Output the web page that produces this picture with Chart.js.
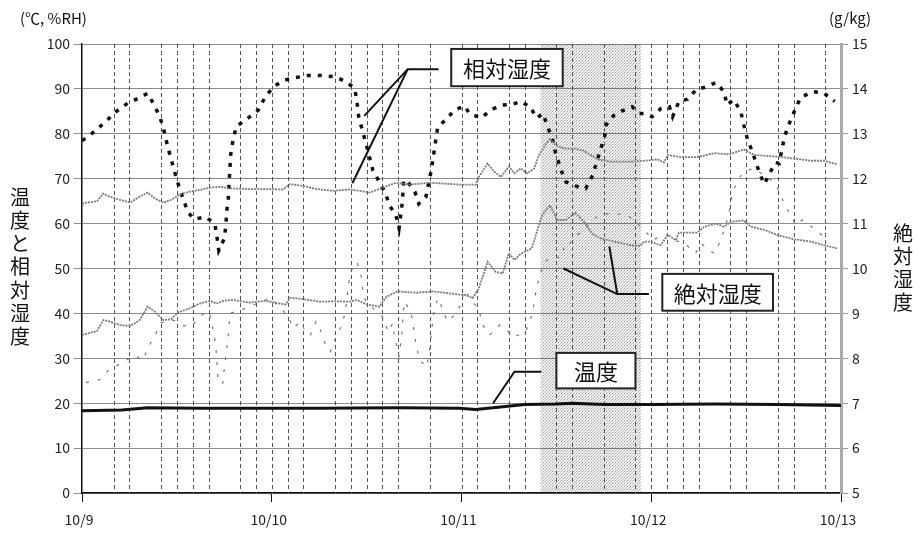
<!DOCTYPE html>
<html>
<head>
<meta charset="utf-8">
<script src="https://cdn.jsdelivr.net/npm/chart.js@4.4.1/dist/chart.umd.min.js"></script>
<style>
html, body { margin: 0; padding: 0; background: #fff; }
#wrap { width: 919px; height: 537px; }
</style>
</head>
<body>
<div id="wrap"><canvas id="chart" width="919" height="537"></canvas></div>
<script>
// x axis: hours since 10/9 0:00
const dayLabels = ['10/9', '10/10', '10/11', '10/12', '10/13'];
const leftTitle = '温度と相対湿度';
const rightTitle = '絶対湿度';

// dashed vertical marks (hours) and the shaded period
const eventHours = [4, 6, 10, 12, 14, 16, 20, 22, 24, 26, 28, 32, 34, 36, 38, 40, 44, 48, 50, 54, 56, 60, 62, 66, 70, 72, 74, 76, 78, 82, 84, 88, 90, 94];
const shadeFrom = 58;
const shadeTo = 70.7;

// outdoor relative humidity (%RH)
const rhOutHours = [0, 0.5, 1.7, 3, 4.2, 5.6, 7.1, 8.3, 9.2, 9.9, 10.4, 10.8, 11.3, 11.8, 12.3, 13.4, 14.2, 15.6, 16.8, 17.1, 17.3, 18, 18.2, 18.3, 18.5, 18.6, 18.7, 18.8, 19.1, 19.5, 21, 22.3, 23.2, 24.3, 25.7, 27, 28.6, 30.3, 32, 33.4, 34.5, 34.8, 35, 35.5, 36, 36.8, 37.6, 38.4, 38.9, 39.7, 40.1, 40.5, 40.7, 41.2, 42.1, 42.6, 43.5, 44.2, 45, 46.1, 47.1, 48.4, 49, 50.5, 51.7, 53, 54.5, 55.5, 56.7, 57.5, 58.3, 58.9, 59.5, 59.9, 60.6, 61.2, 62.1, 62.7, 63.7, 64.6, 65.1, 66.1, 66.3, 67.2, 68.3, 69.6, 70.5, 71.1, 72.1, 73.2, 74.3, 74.7, 75.5, 76.6, 77.7, 78.7, 80.2, 81.2, 81.6, 82.4, 83.3, 83.7, 84.2, 84.8, 85.3, 85.8, 86.3, 87.1, 87.7, 88.2, 88.5, 88.9, 89.5, 90.2, 90.9, 92.4, 93.8, 95.2];
const rhOut = [78.5, 79, 80.7, 82.7, 84.8, 86.6, 87.9, 89, 86.2, 83.5, 80.5, 77.4, 74.2, 71, 68, 62.5, 61, 61.5, 60, 56.7, 54, 56.7, 59.7, 62.7, 65.6, 69, 71.9, 75.3, 78.6, 81.6, 83.5, 85.3, 88.3, 90.6, 92, 92.5, 93, 93, 92.7, 91.6, 90.1, 86.8, 83.8, 80.5, 77.3, 71.8, 69.3, 66.7, 64, 61.9, 59, 64.5, 69.7, 69.3, 67.1, 64.4, 66, 72.1, 81.6, 83.2, 85.3, 86.2, 84.5, 83.5, 85.3, 86.4, 86.6, 87.2, 86, 83.5, 84.5, 81.6, 78.8, 75.7, 71.9, 69.3, 68.7, 68.2, 67.8, 70.8, 73.8, 79.4, 82, 84, 85.1, 86, 84.5, 84.5, 83.8, 85.6, 86, 83.8, 87.2, 87.7, 89.9, 90.3, 91.4, 89.4, 86.4, 87.6, 85.1, 82, 78.6, 76, 73.3, 70.8, 68.8, 71.6, 73.6, 73.4, 76.4, 79.6, 82.5, 85.4, 88.1, 89.4, 89.1, 87.2];

// indoor relative humidity (%RH)
const rhInHours = [0, 1.9, 2.7, 3.5, 4.8, 6.1, 7.3, 8.3, 9.2, 10.3, 11.3, 12.4, 13.6, 14.9, 16.2, 17.4, 19.1, 21.2, 23.3, 25.4, 26.3, 27.9, 29.6, 31.7, 33.9, 35.1, 36.4, 37.6, 39.7, 41.4, 44, 47.7, 49.8, 50.2, 51.3, 52.1, 53, 54, 54.7, 55.5, 56.3, 57.2, 57.8, 58.6, 59.2, 59.9, 61, 62.2, 63.3, 64.3, 65.4, 66.9, 69.4, 71.1, 72.8, 73.6, 74.1, 75.7, 77.8, 80, 81.8, 83.7, 85, 87.9, 90.1, 92.2, 93.8, 95.5];
const rhIn = [64.5, 65, 66.7, 66, 65.3, 64.7, 66, 66.9, 65.6, 64.7, 65.3, 66.5, 67.1, 67.5, 68, 68.2, 67.8, 67.7, 67.7, 67.6, 68.8, 68.4, 67.7, 67.3, 67.6, 67.3, 66.9, 67.7, 69.1, 68.7, 69.1, 68.7, 68.7, 70.4, 73.4, 71.6, 70.4, 72.7, 71.2, 72.3, 71.2, 72.3, 75.3, 77.5, 79, 77.5, 76.7, 76.7, 76.4, 75.3, 74.2, 73.8, 73.8, 74, 74.3, 73.6, 75.3, 74.8, 74.8, 75.7, 75.4, 76.5, 75.3, 74.9, 74.5, 74, 74, 73.2];

// indoor absolute humidity (g/kg)
const ahInHours = [0, 1.9, 2.7, 3.5, 4.8, 6.1, 7.3, 8.3, 9.2, 10.3, 11.3, 12.1, 13.6, 14.9, 16.2, 17, 17.9, 19.1, 21.2, 23.3, 25, 25.8, 26.3, 27.9, 30.1, 32.2, 33.9, 34.7, 36, 37.6, 38.5, 39.9, 42.3, 44.4, 47.7, 48.5, 49.4, 50.2, 51.3, 52.3, 53.2, 54, 54.7, 55.3, 56.1, 56.9, 57.6, 58.2, 59.2, 60.1, 61.2, 62.4, 63.5, 64.5, 65.6, 67.3, 69.4, 70.6, 71.1, 71.9, 72.8, 73.2, 74.1, 75.1, 75.5, 77.8, 78.7, 80.2, 81.2, 82.1, 83.7, 84.6, 86.3, 87.9, 90.1, 92.2, 93.8, 95.5];
const ahIn = [8.52, 8.61, 8.85, 8.82, 8.74, 8.72, 8.85, 9.15, 9.04, 8.85, 8.87, 9.02, 9.11, 9.22, 9.28, 9.22, 9.28, 9.3, 9.24, 9.28, 9.22, 9.2, 9.35, 9.32, 9.26, 9.27, 9.26, 9.3, 9.2, 9.15, 9.37, 9.49, 9.46, 9.49, 9.42, 9.41, 9.34, 9.56, 10.15, 9.93, 9.89, 10.34, 10.19, 10.3, 10.38, 10.45, 10.86, 11.19, 11.41, 11.08, 11.08, 11.24, 11.04, 10.78, 10.67, 10.6, 10.52, 10.5, 10.6, 10.6, 10.54, 10.52, 10.75, 10.63, 10.8, 10.8, 10.93, 11, 10.93, 11.04, 11.07, 10.93, 10.86, 10.75, 10.65, 10.6, 10.52, 10.45];

// outdoor absolute humidity (g/kg)
const ahOutHours = [0.5, 2.2, 3.5, 5, 6.6, 7.7, 8.3, 9.2, 10, 11.6, 12.8, 14, 14.7, 16.1, 16.5, 16.8, 17, 17.1, 17.2, 17.8, 18, 18.2, 18.4, 18.6, 18.7, 20.5, 22.5, 23.8, 26, 26.7, 27.7, 28.3, 28.9, 29.6, 30.2, 30.7, 31.4, 32.1, 32.8, 33.3, 33.7, 34, 34.8, 35.3, 35.5, 35.9, 38.1, 38.7, 39.3, 39.5, 39.9, 40.1, 40.3, 40.5, 40.6, 40.8, 41.2, 41.8, 42, 42.3, 42.7, 43.6, 43.9, 44.1, 44.3, 44.5, 45, 45.6, 46.2, 47.1, 48, 48.3, 50.2, 50.7, 51.5, 52.1, 52.8, 53.6, 54.4, 55.3, 56.1, 56.7, 57.1, 57.4, 57.8, 58.4, 59.1, 59.9, 60.8, 61, 61.8, 63.1, 65.4, 66.9, 69, 70.2, 71.5, 72.2, 72.6, 73.9, 74.9, 76.2, 77.6, 78.3, 79.3, 80, 80.8, 81.8, 82.1, 82.5, 83.5, 84.8, 85.9, 87.5, 88.2, 88.8, 89.6, 90.3, 91.1, 92.6, 93.8, 94.1];
const ahOut = [7.46, 7.52, 7.76, 7.89, 8.07, 7.96, 8.22, 8.5, 8.79, 8.85, 8.72, 8.72, 8.93, 9.04, 8.72, 8.42, 8.11, 7.79, 7.49, 7.44, 7.78, 8.07, 8.37, 8.69, 9, 9.1, 9.25, 9.34, 8.96, 8.67, 8.82, 8.57, 8.52, 8.82, 8.61, 8.35, 8.15, 8.47, 8.72, 9.02, 9.63, 9.94, 10.14, 9.83, 9.54, 9.26, 8.91, 8.59, 8.78, 8.5, 8.22, 8.04, 8.33, 8.63, 8.94, 9.26, 9.15, 8.89, 8.57, 8.27, 7.96, 7.81, 8.1, 8.41, 8.72, 9.02, 9.34, 9.11, 8.82, 8.96, 9.22, 9.52, 9.08, 8.74, 8.52, 8.59, 8.74, 8.67, 8.48, 8.52, 8.59, 8.85, 9.15, 9.48, 9.78, 10.12, 10.23, 10.23, 10.28, 10.56, 10.57, 10.82, 11.19, 11.23, 11.19, 11.01, 10.78, 10.63, 10.67, 10.75, 10.63, 10.56, 10.34, 10.56, 10.41, 10.34, 10.63, 11.19, 11.53, 11.79, 12.12, 12.23, 12.12, 11.93, 11.71, 11.45, 11.19, 10.97, 11.08, 10.89, 10.71, 10.56];

// temperature (°C)
const tempHours = [0, 5, 8.3, 15, 30, 40, 47.7, 49.8, 52, 56, 60, 62, 66, 72, 80, 88, 96];
const temp = [18.3, 18.5, 19, 18.9, 18.9, 19, 18.9, 18.6, 19, 19.7, 19.8, 20, 19.7, 19.7, 19.8, 19.7, 19.5];

// callout boxes, in data units (hours, left-axis value)
const callouts = [
  { text: '相対湿度', box: [46.7, 98.9, 60.8, 90.6],
    legs: [[[45.1, 94.4], [41.2, 94.4], [35.7, 84.0]], [[41.2, 94.4], [34.2, 69.0]]] },
  { text: '温度', box: [60.0, 31.2, 70.0, 23.3],
    legs: [[[58.1, 27.0], [54.7, 27.0], [52.0, 20.0]]] },
  { text: '絶対湿度', box: [73.4, 48.8, 87.4, 40.6],
    legs: [[[71.7, 44.3], [67.7, 44.3], [60.9, 50.0]], [[67.7, 44.3], [66.7, 54.9]]] }
];

const FONT = '"Noto Sans CJK JP", "Noto Sans", sans-serif';

function pts(xs, ys) {
  return xs.map((h, i) => ({ x: h, y: ys[i] }));
}

function stipple(ctx) {
  const c = document.createElement('canvas');
  c.width = 3; c.height = 3;
  const g = c.getContext('2d');
  g.fillStyle = 'rgba(0,0,0,0.05)';
  g.fillRect(0, 0, 3, 3);
  g.fillStyle = 'rgba(0,0,0,0.35)';
  g.fillRect(0, 0, 1, 1);
  g.fillStyle = 'rgba(0,0,0,0.22)';
  g.fillRect(1, 2, 1, 1);
  g.fillRect(2, 1, 1, 1);
  return ctx.createPattern(c, 'repeat');
}

const backdrop = {
  id: 'backdrop',
  beforeDatasetsDraw(chart) {
    const { ctx, chartArea: a, scales: { x } } = chart;
    ctx.save();
    const x0 = x.getPixelForValue(shadeFrom);
    const x1 = x.getPixelForValue(shadeTo);
    ctx.fillStyle = stipple(ctx);
    ctx.fillRect(x0, a.top, x1 - x0, a.bottom - a.top);

    ctx.strokeStyle = '#555';
    ctx.lineWidth = 1;
    ctx.setLineDash([4, 3]);
    eventHours.forEach(h => {
      const px = Math.round(x.getPixelForValue(h)) + 0.5;
      ctx.beginPath();
      ctx.moveTo(px, a.top);
      ctx.lineTo(px, a.bottom);
      ctx.stroke();
    });
    ctx.restore();
  }
};

const labels = {
  id: 'labels',
  afterDatasetsDraw(chart) {
    const { ctx, scales: { x, y } } = chart;
    ctx.save();
    callouts.forEach(c => {
      ctx.strokeStyle = '#111';
      ctx.lineWidth = 2;
      c.legs.forEach(leg => {
        ctx.beginPath();
        leg.forEach((p, i) => {
          const px = x.getPixelForValue(p[0]);
          const py = y.getPixelForValue(p[1]);
          if (i === 0) ctx.moveTo(px, py); else ctx.lineTo(px, py);
        });
        ctx.stroke();
      });
      const bx0 = x.getPixelForValue(c.box[0]);
      const by0 = y.getPixelForValue(c.box[1]);
      const bx1 = x.getPixelForValue(c.box[2]);
      const by1 = y.getPixelForValue(c.box[3]);
      ctx.fillStyle = '#fff';
      ctx.fillRect(bx0, by0, bx1 - bx0, by1 - by0);
      ctx.strokeStyle = '#222';
      ctx.lineWidth = 2;
      ctx.strokeRect(bx0, by0, bx1 - bx0, by1 - by0);
      ctx.fillStyle = '#111';
      ctx.font = '22px ' + FONT;
      ctx.textAlign = 'center';
      ctx.textBaseline = 'middle';
      ctx.fillText(c.text, (bx0 + bx1) / 2, (by0 + by1) / 2 + 1);
    });
    ctx.restore();
  },
  afterDraw(chart) {
    const ctx = chart.ctx;
    ctx.save();
    ctx.fillStyle = '#111';
    ctx.textAlign = 'center';
    ctx.textBaseline = 'middle';
    ctx.font = '20px ' + FONT;
    [...leftTitle].forEach((ch, i) => ctx.fillText(ch, 20, 197 + i * 23.3));
    [...rightTitle].forEach((ch, i) => ctx.fillText(ch, 903, 233 + i * 23.3));
    ctx.font = '15px ' + FONT;
    ctx.textAlign = 'left';
    ctx.fillText('(℃, %RH)', 20, 18);
    ctx.fillText('(g/kg)', 829, 18);
    ctx.restore();
  }
};

new Chart(document.getElementById('chart'), {
  type: 'line',
  data: {
    datasets: [
      { label: '絶対湿度(外)', data: pts(ahOutHours, ahOut), yAxisID: 'y1',
        borderColor: '#777', borderWidth: 1.2, borderDash: [3, 9] },
      { label: '相対湿度(内)', data: pts(rhInHours, rhIn), yAxisID: 'y',
        borderColor: '#7a7a7a', borderWidth: 1.8, borderDash: [2, 1] },
      { label: '絶対湿度(内)', data: pts(ahInHours, ahIn), yAxisID: 'y1',
        borderColor: '#7a7a7a', borderWidth: 1.8, borderDash: [2, 1] },
      { label: '相対湿度(外)', data: pts(rhOutHours, rhOut), yAxisID: 'y',
        borderColor: '#111', borderWidth: 3.5, borderDash: [4, 7] },
      { label: '温度', data: pts(tempHours, temp), yAxisID: 'y',
        borderColor: '#111', borderWidth: 3 }
    ]
  },
  options: {
    responsive: false,
    animation: false,
    devicePixelRatio: 1,
    elements: { point: { radius: 0 }, line: { tension: 0, fill: false } },
    layout: { padding: { top: 44, left: 0, right: 0, bottom: 0 } },
    plugins: { legend: { display: false }, tooltip: { enabled: false } },
    scales: {
      x: {
        type: 'linear', min: 0, max: 96,
        afterFit: s => { s.height = 44; },
        afterBuildTicks: s => { s.ticks = dayLabels.map((d, i) => ({ value: i * 24 })); },
        ticks: { callback: v => dayLabels[v / 24], color: '#222', font: { family: FONT, size: 14 },
                 padding: 9, maxRotation: 0, labelOffset: -3 },
        grid: { drawOnChartArea: false, drawTicks: true, tickLength: 9, color: '#111' },
        border: { color: '#111', width: 1.5 }
      },
      y: {
        position: 'left', min: 0, max: 100,
        afterFit: s => { s.width = 82; },
        ticks: { stepSize: 10, color: '#222', font: { family: FONT, size: 14 }, padding: 4 },
        grid: { color: '#8c8c8c', lineWidth: 1, tickLength: 8 },
        border: { color: '#111', width: 1.5 }
      },
      y1: {
        position: 'right', min: 5, max: 15,
        afterFit: s => { s.width = 78; },
        ticks: { stepSize: 1, color: '#222', font: { family: FONT, size: 14 }, padding: 4 },
        grid: { drawOnChartArea: false, drawTicks: true, tickLength: 7, color: '#999' },
        border: { color: '#aaa', width: 3 }
      }
    }
  },
  plugins: [backdrop, labels]
});
</script>
</body>
</html>
